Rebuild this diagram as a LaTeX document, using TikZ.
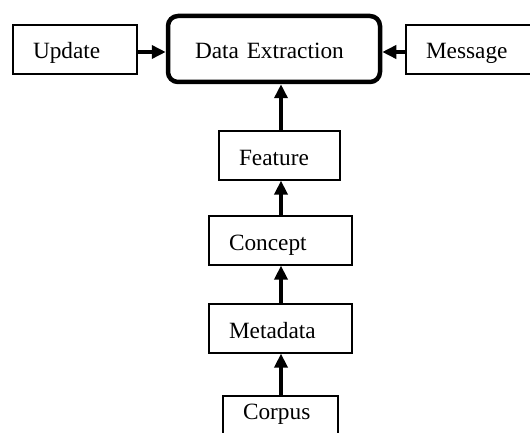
\documentclass[tikz,border=0pt]{standalone}
\usepackage{fontspec}
\setmainfont{Liberation Serif}
\usetikzlibrary{arrows.meta}
\tikzset{
  boxtext/.style={align=left, inner ysep=0pt, text height=21pt, text depth=2pt,
    font=\fontsize{23.3}{28}\selectfont},
  box/.style={boxtext, draw, line width=1.2pt, inner xsep=20pt},
  mainbox/.style={boxtext, draw, line width=4.5pt, rounded corners=10pt, inner xsep=27pt},
  link/.style={line width=3.5pt, -{Triangle[length=14pt,width=13pt]}}
}
\begin{document}
\begin{tikzpicture}[x=1pt,y=1pt]
  \useasboundingbox (0,0) rectangle (530,432);
  \clip (0,0) rectangle (530,432);
  % top row
  \node[mainbox, text width=158pt, minimum height=66pt] (dx) at (274,383) {Data Extraction};
  \node[box, text width=84pt, minimum height=49pt] (upd) at (75,382.5) {Update};
  \node[box, text width=86pt, minimum height=49pt] (msg) at (469,382.5) {Message};
  % vertical chain
  \node[box, text width=81pt, minimum height=49pt] (feat) at (279.5,276.5) {Feature};
  \node[box, text width=103pt, minimum height=49pt] (conc) at (280.5,191.5) {Concept};
  \node[box, text width=103pt, minimum height=49pt] (meta) at (280.5,103.5) {Metadata};
  \node[box, text width=75pt, minimum height=49pt, text height=16pt, text depth=19pt]
    (corp) at (280.5,11.5) {Corpus};
  % connectors
  \draw[link] ([yshift=-2.5pt]upd.east) -- ([yshift=-2.5pt]dx.west |- upd.east);
  \draw[link] ([yshift=-2.5pt]msg.west) -- ([yshift=-2.5pt]dx.east |- msg.west);
  \draw[link] (feat.north -| 281,0) -- (281,0 |- dx.south);
  \draw[link] (conc.north -| 281,0) -- (281,0 |- feat.south);
  \draw[link] (meta.north -| 281,0) -- (281,0 |- conc.south);
  \draw[link] (corp.north -| 281,0) -- (281,0 |- meta.south);
\end{tikzpicture}
\end{document}
